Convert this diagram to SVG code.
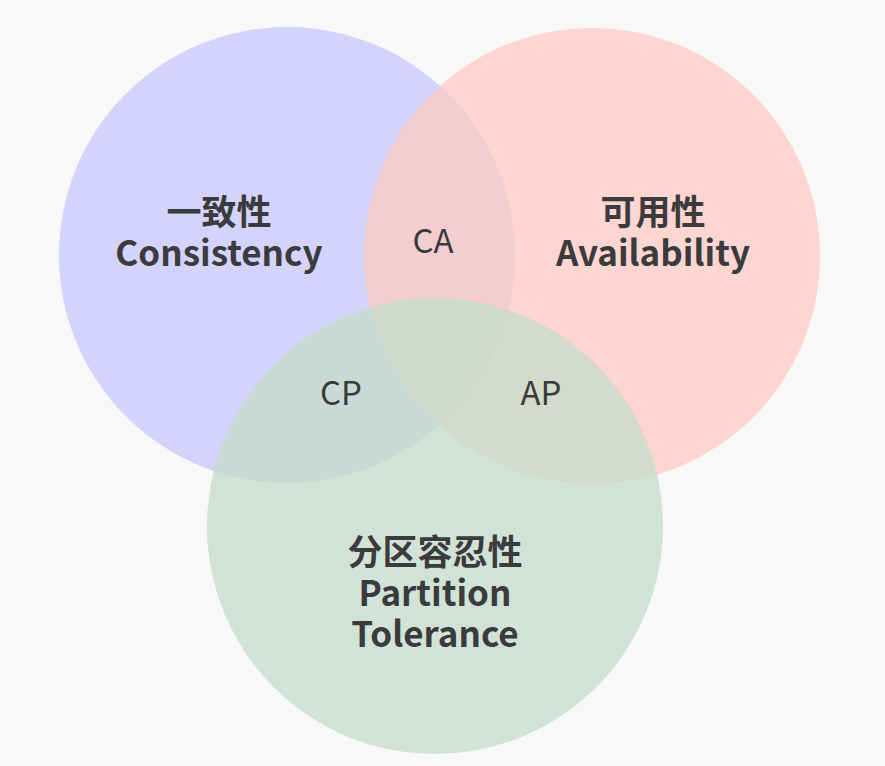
<svg xmlns="http://www.w3.org/2000/svg" width="885" height="766" viewBox="0 0 885 766">
<style>
.c{fill-opacity:0.75}
.t{font-family:"Noto Sans CJK SC","Noto Sans",sans-serif;font-size:33px;fill:#3b3b3d;text-anchor:middle}
.b{font-weight:bold;font-size:35px}
</style>
<rect width="885" height="766" fill="#f8f8f9"/>
<g id="consistency">
<circle class="c" cx="287" cy="255" r="228" fill="#c8c7fc"/>
</g>
<g id="availability">
<circle class="c" cx="592" cy="256" r="228" fill="#ffcbc3"/>
</g>
<g id="partition">
<circle class="c" cx="435" cy="526" r="228" fill="#c3dcc9"/>
</g>
<g id="labels">
<text class="t b" x="219" y="225">一致性</text>
<text class="t b" x="219" y="266">Consistency</text>
<text class="t b" x="653" y="225">可用性</text>
<text class="t b" x="653" y="266">Availability</text>
<text class="t b" x="435" y="565">分区容忍性</text>
<text class="t b" x="435" y="606">Partition</text>
<text class="t b" x="435" y="647">Tolerance</text>
<text class="t" x="433" y="253">CA</text>
<text class="t" x="341" y="405">CP</text>
<text class="t" x="541" y="405">AP</text>
</g>
</svg>
